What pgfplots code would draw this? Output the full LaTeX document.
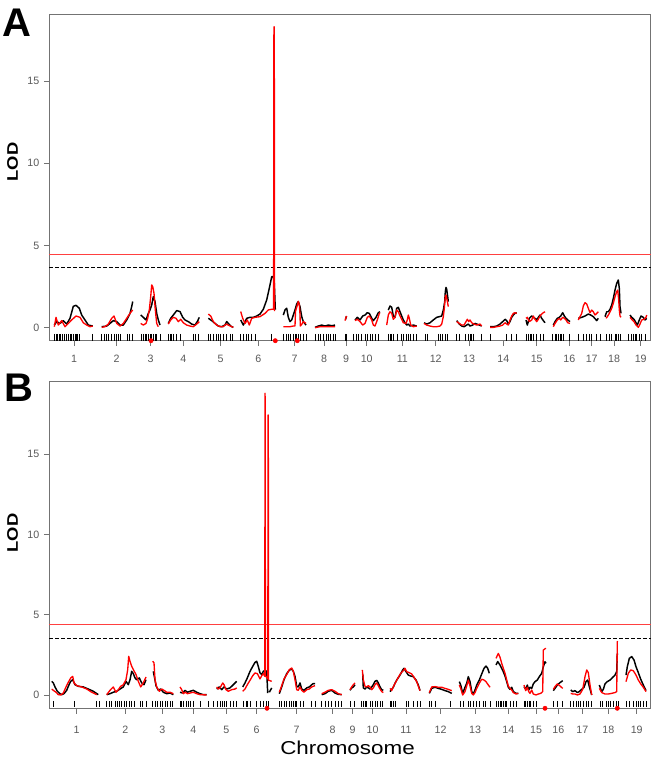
\documentclass[border=0pt]{standalone}
\usepackage{fontspec}
\setmainfont{Liberation Sans}
\usepackage{pgfplots}
\pgfplotsset{compat=1.18}

\pgfplotsset{
  lodaxis/.style={
    scale only axis, width=451.05pt, height=245pt,
    xmin=49.3, xmax=650.7,
    axis line style={draw=black!55, line width=0.7pt},
    tick pos=left, tick align=outside, major tick length=4pt,
    tick style={draw=black!55, line width=0.6pt},
    ytick={0,5,10,15},
    xticklabels={1,2,3,4,5,6,7,8,9,10,11,12,13,14,15,16,17,18,19},
    ticklabel style={font=\fontsize{8}{9.6}\selectfont, text=black!65},
    /pgf/number format/assume math mode=true,
    unbounded coords=jump, clip=false,
  },
  blk/.style={black, line width=1.1pt, line join=round},
  rd/.style={red, line width=1pt, line join=round},
  rug/.style={only marks, mark=|, mark size=2.5pt, mark options={black, line width=0.5pt}},
  dot/.style={only marks, mark=*, mark size=1.6pt, red},
}

\begin{document}
\begin{tikzpicture}[x=0.75pt,y=0.75pt]
\useasboundingbox (0,0) rectangle (656,759);

% ---------------- panel A ----------------
\begin{axis}[lodaxis, at={(36.98pt,313.73pt)}, anchor=south west,
  ymin=-0.79, ymax=19.07, xticklabel style={yshift=-3pt},
  xtick={74,116.7,150.7,183.3,220.5,258.3,294.5,324,346,366.7,402.3,435.7,469,503.3,536.7,569.3,591.7,614,640.7}]
\addplot[red!75, line width=0.6pt] coordinates {(49.3,4.46) (650.7,4.46)};
\addplot[black, line width=0.7pt, dash pattern=on 2.5pt off 2pt] coordinates {(49.3,3.65) (650.7,3.65)};
\addplot[blk] coordinates {
(54.3,0.16) (56.7,0.37) (60,0.26) (63.3,0.43) (66.7,0.22) (70,0.57) (73.3,1.3) (76,1.36) (79.3,1.18) (81.7,0.77) (85,0.47) (88.3,0.16) (92.7,0.1) (95,nan)
(101.7,0.06) (106.7,0.1) (110,0.26) (113.3,0.43) (116.7,0.37) (120,0.16) (123.3,0.16) (126.7,0.47) (130,0.87) (131.7,1.28) (132.7,1.59) (135,nan)
(140.7,0.77) (143.3,0.63) (146,0.47) (148.3,0.87) (150,1.08) (151.7,1.38) (153.3,1.89) (155,1.59) (156.7,0.87) (158.3,0.47) (160,0.16) (162,nan)
(168.3,0.26) (170.7,0.57) (173.3,0.77) (176.7,1.04) (180,0.98) (182.7,0.63) (185,0.47) (188.3,0.37) (191.7,0.22) (195,0.16) (197.3,0.37) (199.3,0.63) (201,nan)
(208.3,0.57) (211.7,0.43) (215,0.26) (218.3,0.1) (221.7,0.06) (225,0.16) (226.7,0.37) (228.3,0.26) (230.7,0.1) (233.3,0.02) (235,nan)
(240.7,0.47) (243.3,0.16) (246.7,0.57) (250,0.63) (253.3,0.63) (256.7,0.71) (260,0.83) (263.3,1.12) (266.7,1.69) (269.3,2.4) (271.7,3.1) (273.3,3.1) (274.3,2.7) (275.3,1.1) (277,nan)
(283.3,0.77) (285,1.08) (286.7,1.18) (288.3,0.63) (290,0.37) (291.7,0.47) (293.3,0.77) (295,1.08) (296.7,1.44) (298.3,1.59) (300,1.28) (301.7,0.67) (303.3,0.37) (306,0.16) (308,nan)
(315,0.02) (318.3,0.1) (321.7,0.16) (325,0.1) (328.3,0.16) (331.7,0.12) (335,0.16) (337,nan)
(345.5,0.5) (346.5,0.7) (348,nan)
(355,0.47) (357.3,0.63) (360,0.47) (362.7,0.71) (365,0.77) (367.3,0.91) (369.3,0.87) (371.7,0.57) (373.3,0.43) (376,0.63) (378.3,0.91) (380,0.97) (382,nan)
(388.3,1.07) (390,1.32) (391.7,1.24) (393.3,0.71) (395,0.63) (396.7,1.18) (398.3,1.24) (400,0.97) (401.7,0.71) (403.3,0.47) (405,0.3) (406.7,0.16) (408.3,0.22) (410,0.1) (413.3,0.16) (416.7,0.1) (419,nan)
(424,0.3) (426.7,0.22) (430,0.3) (433.3,0.47) (436.7,0.63) (439.3,0.67) (441.7,0.71) (443.3,1.07) (444.7,1.58) (445.3,2.19) (446,2.45) (446.7,2.33) (447.7,1.88) (448.3,1.58) (450,nan)
(456.7,0.43) (459.3,0.22) (461.7,0.1) (464,0.06) (466.7,0.16) (468.3,0.22) (470,0.1) (472.7,0.16) (475,0.26) (476.7,0.22) (479.3,0.16) (481.7,0.1) (484,nan)
(490,0.06) (493.3,0.06) (496.7,0.1) (500,0.22) (502.7,0.37) (505,0.51) (506.7,0.43) (508.3,0.22) (510,0.37) (511.7,0.63) (513.3,0.77) (515,0.87) (516.7,0.91) (519,nan)
(526,0.47) (527.3,0.16) (529.3,0.57) (531.7,0.71) (533.3,0.63) (535,0.57) (536.7,0.47) (538.3,0.63) (540,0.77) (541.7,0.57) (543.3,0.43) (545,0.3) (547,nan)
(553.3,0.16) (555,0.37) (557.3,0.57) (559.3,0.63) (560.7,0.71) (562.7,0.91) (564.3,0.71) (566,0.57) (567.7,0.47) (570,0.37) (572,nan)
(578.3,0.57) (581.7,0.63) (585,0.71) (588.3,0.83) (590.7,0.77) (593.3,0.67) (596.7,0.43) (598.3,0.57) (600,nan)
(605,0.67) (606.7,0.97) (608.3,0.97) (610,1.12) (611.7,1.38) (613.3,1.78) (615,2.29) (616.7,2.7) (618.3,2.9) (619.3,2.39) (620,1.28) (621,0.87) (623,nan)
(630,0.77) (631.7,0.63) (634,0.51) (636,0.3) (637.3,0.16) (639.3,0.47) (641,0.71) (643.3,0.63) (645,0.47) (646.7,0.57)
};
\addplot[rd] coordinates {
(54.3,0.06) (56,0.63) (58.3,0.16) (61.7,0.43) (65,0.06) (68.3,0.26) (71.7,0.47) (76,0.71) (80,0.63) (83.3,0.3) (86.7,0.16) (90,0.06) (92.7,0.1) (95,nan)
(101.7,0.02) (105,0.06) (108.3,0.22) (111.7,0.57) (114,0.71) (116.7,0.26) (120,0.1) (123.3,0.26) (126.7,0.57) (130,0.87) (132.7,1.08) (135,nan)
(140.7,0.26) (143.3,0.16) (146,0.26) (147.7,0.57) (149.3,1.08) (150.7,1.89) (151.7,2.6) (152.7,2.5) (154,2.09) (155.3,1.08) (156.7,0.26) (158.3,0.06) (162,nan)
(168.3,0.22) (170.7,0.47) (173.3,0.63) (176,0.57) (178.3,0.37) (180.7,0.51) (183.3,0.3) (186.7,0.16) (190,0.1) (193.3,0.06) (196.7,0.22) (199.3,0.37) (201,nan)
(208.3,0.83) (210.7,0.71) (213.3,0.37) (216.7,0.16) (220,0.06) (223.3,0.06) (226,0.22) (228.3,0.16) (231.7,0.06) (233.3,0.02) (235,nan)
(240.7,0.98) (242.7,0.57) (245,0.26) (247.3,0.47) (249.3,0.16) (251.7,0.57) (255,0.63) (260,0.67) (265,0.87) (268.3,1.08) (271.7,1.12) (273.6,1.12) (273.9,17.8) (274.1,18.3) (274.3,16.9) (274.5,1.0) (277,nan)
(283.3,0.06) (286.7,0.06) (290,0.06) (293.3,0.1) (295,0.1) (295.5,1.0) (297,1.3) (298.3,1.6) (299.3,1.4) (300,0.8) (300.3,0.1) (301.7,0.2) (303.3,0.37) (306,0.26) (308,nan)
(315,0) (320,0.06) (325,0.06) (330,0.06) (335,0.06) (337,nan)
(345,0.43) (346,0.63) (346.7,0.71) (348,nan)
(355,0.43) (357.3,0.51) (360,0.37) (362.7,0.16) (365,0.26) (367.3,0.63) (369.3,0.71) (371.7,0.47) (373.3,0.16) (375,0.1) (377.3,0.47) (379.3,0.87) (380,0.91) (382,nan)
(386.7,0.16) (388.3,0.77) (390,0.97) (391.7,0.87) (393.3,0.51) (395,0.63) (396.7,1.07) (398.3,0.97) (400,0.71) (401.7,0.51) (403.3,0.3) (406,0.26) (407.3,0.47) (408.3,0.77) (409.3,0.57) (410.7,0.16) (413.3,0.06) (416.7,0.1) (419,nan)
(424,0.26) (426.7,0.16) (430,0.1) (433.3,0.06) (436.7,0.06) (440,0.1) (441.7,0.22) (443.3,0.67) (444.3,1.18) (445.3,1.88) (446,1.99) (446.7,1.78) (447.7,1.48) (448.3,1.28) (450,nan)
(456.7,0.37) (459.3,0.26) (461.7,0.16) (464,0.16) (466,0.37) (467.3,0.51) (468.7,0.37) (470,0.47) (471.7,0.3) (474,0.22) (476.7,0.16) (480,0.22) (481.7,0.1) (484,nan)
(490,0.02) (493.3,0.02) (496.7,0.06) (500,0.1) (502.7,0.16) (505,0.3) (506.7,0.22) (508.3,0.16) (510,0.47) (511.7,0.71) (513.3,0.87) (515,0.91) (516.7,0.87) (519,nan)
(526,0.57) (527.3,0.63) (529.3,0.37) (531.7,0.47) (533.3,0.71) (535,0.51) (536.7,0.37) (538.3,0.51) (540,0.71) (541.7,0.83) (543.3,0.91) (545,0.97) (547,nan)
(553.3,0.06) (555,0.26) (557.3,0.47) (559.3,0.57) (560.7,0.47) (562.7,0.63) (564.3,0.57) (566,0.47) (567.7,0.3) (570,0.26) (572,nan)
(578.3,0.47) (581.7,0.87) (583.3,1.32) (585,1.52) (586.7,1.44) (588.3,1.18) (590,0.91) (591.7,1.07) (593.3,0.97) (595,0.77) (596.7,0.87) (598.3,0.97) (600,nan)
(606,0.57) (607.3,0.67) (609.3,0.87) (611.7,1.18) (613.3,1.48) (615,1.88) (616.7,2.19) (617.7,2.29) (618.7,1.68) (619.3,1.07) (620,0.71) (621,0.63) (623,nan)
(630,0.63) (631.7,0.51) (634,0.37) (636,0.16) (638.3,0.02) (640,0.22) (641.7,0.47) (644,0.51) (646,0.63) (646.7,0.77)
};
\addplot[rug] coordinates {
(54.3,-0.58) (56,-0.58) (57.3,-0.58) (59.3,-0.58) (60.7,-0.58) (62.7,-0.58) (64.3,-0.58) (66,-0.58) (68.3,-0.58) (70,-0.58) (71.7,-0.58) (73.3,-0.58) (75,-0.58) (76,-0.58) (77.3,-0.58) (79.3,-0.58) (92.7,-0.58)
(101.7,-0.58) (104,-0.58) (106,-0.58) (108.3,-0.58) (111.7,-0.58) (114,-0.58) (116.7,-0.58) (118.3,-0.58) (120,-0.58) (127.3,-0.58) (129.3,-0.58) (132.7,-0.58)
(141.7,-0.58) (143.3,-0.58) (145,-0.58) (146.7,-0.58) (148.3,-0.58) (150,-0.58) (151.7,-0.58) (153.3,-0.58) (155,-0.58) (156.7,-0.58) (160,-0.58)
(168.3,-0.58) (170,-0.58) (171.7,-0.58) (173.3,-0.58) (176.7,-0.58) (180,-0.58) (193.3,-0.58) (195,-0.58) (198.3,-0.58)
(208.3,-0.58) (210.7,-0.58) (213.3,-0.58) (216,-0.58) (218.3,-0.58) (220,-0.58) (223.3,-0.58) (226.7,-0.58) (230,-0.58) (232.7,-0.58)
(240.7,-0.58) (243.3,-0.58) (246,-0.58) (248.3,-0.58) (251.7,-0.58) (255,-0.58) (271.7,-0.58)
(283.3,-0.58) (286,-0.58) (288.3,-0.58) (290.7,-0.58) (293.3,-0.58) (295,-0.58) (296.7,-0.58) (298.3,-0.58) (300,-0.58) (303.3,-0.58) (306,-0.58)
(315,-0.58) (318.3,-0.58) (320,-0.58) (323.3,-0.58) (326,-0.58) (328.3,-0.58) (330.7,-0.58) (333.3,-0.58) (335,-0.58)
(345,-0.58) (346.7,-0.58)
(353.3,-0.58) (356,-0.58) (358.3,-0.58) (361.7,-0.58) (365,-0.58) (367.3,-0.58) (370,-0.58) (372.7,-0.58) (375,-0.58) (378.3,-0.58)
(388.3,-0.58) (390,-0.58) (391.7,-0.58) (393.3,-0.58) (397.3,-0.58) (401.7,-0.58) (403.3,-0.58) (406,-0.58) (408.3,-0.58) (410.7,-0.58) (413.3,-0.58) (416.7,-0.58)
(425,-0.58) (427.3,-0.58) (438.3,-0.58) (440.7,-0.58) (442.7,-0.58) (445,-0.58) (447.3,-0.58)
(456.7,-0.58) (459.3,-0.58) (465,-0.58) (468.3,-0.58) (470,-0.58) (471.7,-0.58) (473.3,-0.58) (481.7,-0.58)
(490,-0.58) (506.7,-0.58) (511.7,-0.58) (516.7,-0.58)
(526.7,-0.58) (528.3,-0.58) (530,-0.58) (531.7,-0.58) (533.3,-0.58) (536.7,-0.58) (540,-0.58) (543.3,-0.58)
(552.7,-0.58) (555,-0.58) (556.7,-0.58) (558.3,-0.58) (560,-0.58) (561.7,-0.58) (563.3,-0.58) (569.3,-0.58)
(578.3,-0.58) (583.3,-0.58) (586.7,-0.58) (589.3,-0.58) (591.7,-0.58) (596.7,-0.58) (600,-0.58)
(606.7,-0.58) (609.3,-0.58) (611.7,-0.58) (615,-0.58) (616.7,-0.58) (618.3,-0.58) (620,-0.58)
(628.3,-0.58) (631.7,-0.58) (633.3,-0.58) (635,-0.58) (636.7,-0.58) (639.3,-0.58) (641.7,-0.58) (645,-0.58)
};
\addplot[dot] coordinates {(151,-0.79) (275.3,-0.79) (297.3,-0.79)};
\end{axis}

% ---------------- panel B ----------------
\begin{axis}[lodaxis, at={(36.98pt,38.03pt)}, anchor=south west,
  ymin=-0.83, ymax=19.52, xticklabel style={yshift=-6pt},
  xtick={76.7,125.3,162.3,193.3,226.3,256.7,296.5,332.5,352.5,372.5,406,440.5,475,508.3,536,558.3,582.3,608.3,636.7}]
\addplot[red!75, line width=0.6pt] coordinates {(49.3,4.38) (650.7,4.38)};
\addplot[black, line width=0.7pt, dash pattern=on 2.5pt off 2pt] coordinates {(49.3,3.52) (650.7,3.52)};
\addplot[blk] coordinates {
(51.7,0.85) (53.3,0.75) (55,0.5) (57.3,0.23) (60,0.08) (61.7,0.02) (64,0.08) (66.7,0.29) (68.3,0.54) (70.7,0.85) (72.7,0.95) (75,0.64) (78.3,0.54) (83.3,0.5) (88.3,0.37) (93.3,0.23) (98.3,0.02) (101,nan)
(106.7,0.02) (110,0.08) (113.3,0.17) (116.7,0.23) (120,0.37) (123.3,0.5) (126,0.85) (128.3,0.64) (130,0.95) (131.7,1.47) (133.3,1.33) (135,1.06) (136.7,0.95) (139.3,1.06) (141.7,0.75) (144,0.64) (146,0.95) (149,nan)
(153.3,1.47) (154.3,1.16) (156,0.58) (158.3,0.29) (160.7,0.37) (163.3,0.17) (166.7,0.08) (170,0.12) (173.3,0.02) (176,nan)
(180,0.17) (182.7,0.12) (185,0.29) (187.3,0.17) (190,0.23) (193.3,0.29) (196.7,0.17) (200,0.08) (203.3,0.02) (206.7,0.02) (210,nan)
(216.7,0.37) (219.3,0.5) (221.7,0.33) (224,0.5) (226.7,0.37) (230,0.44) (233.3,0.64) (236.7,0.85) (239,nan)
(242.7,0.5) (245,0.75) (247.3,1.06) (250,1.47) (252.7,1.78) (255,2.03) (256.7,2.1) (258.3,1.78) (260,1.37) (261.7,1.27) (263.3,1.47) (265,1.54) (266.7,1.47) (267.7,0.12) (268.5,nan)
(269.3,0.17) (271.7,0.44) (274,nan)
(279.3,0.08) (281.7,0.5) (284,0.95) (286.7,1.33) (289.3,1.54) (291.7,1.62) (293.3,1.47) (295,1.16) (296.7,0.54) (298.3,0.5) (300,0.75) (301.7,0.37) (304,0.29) (306.7,0.44) (309.3,0.5) (311.7,0.64) (313.3,0.71) (315,0.71) (318,nan)
(321.7,0.02) (325,0.08) (328.3,0.23) (331.7,0.29) (335,0.12) (338.3,0.04) (341.7,0.02) (345,nan)
(350,0.29) (351.7,0.44) (353.3,0.5) (355,0.64) (358,nan)
(362.7,1.31) (363.3,0.44) (365,0.37) (366.7,0.5) (368.3,0.44) (370,0.37) (371.7,0.5) (373.3,0.64) (375,0.85) (376.7,0.91) (378.3,0.75) (380,0.5) (381.7,0.33) (383.3,0.29) (386,nan)
(390,0.21) (391.7,0.35) (393.3,0.48) (395,0.73) (396.7,0.93) (400,1.24) (402.7,1.56) (404,1.66) (406,1.45) (408.3,1.24) (410.7,1.18) (413.3,1.14) (416,0.93) (418.3,0.62) (420,0.27) (424,nan)
(429.3,0.1) (431.7,0.41) (435,0.48) (438.3,0.41) (441.7,0.35) (445,0.27) (448.3,0.21) (451.7,0.1) (455,nan)
(459.3,0.83) (460.7,0.62) (462.7,0.1) (465,0.48) (466.7,0.73) (468.3,1.14) (470,0.83) (471.7,0.21) (473.3,0.06) (475,0.31) (476.7,0.62) (479.3,0.93) (481.7,1.31) (484,1.66) (486,1.8) (487.7,1.66) (489.3,1.35) (493,nan)
(496,1.87) (497.7,2.08) (500,1.87) (501.7,1.66) (503.3,1.45) (505,1.18) (506.7,0.83) (508.3,0.48) (510,0.35) (511.7,0.48) (513.3,0.21) (516,0.1) (518.3,0.1) (521,nan)
(524,0.52) (525.7,0.35) (527.3,0.62) (528.7,0.31) (530,0.48) (531.7,0.41) (533.3,0.69) (535,0.83) (537.3,0.93) (539.3,1.14) (541.7,1.35) (543.3,1.76) (545,2.07) (546,1.97) (549,nan)
(553.3,0.27) (555,0.41) (557.3,0.62) (560,0.77) (562.7,0.89) (566,nan)
(570.7,0.31) (572.7,0.21) (575,0.27) (577.3,0.15) (579.3,0.21) (581.7,0.35) (584,0.48) (586,0.83) (587.7,0.93) (589.3,0.52) (591.7,0) (595,nan)
(599.3,0.62) (601.7,0.21) (603.3,0.35) (605,0.69) (607.3,0.83) (610,0.93) (612.7,1.1) (615,1.24) (616.7,1.45) (617.3,2.59) (620,nan)
(626,1.24) (627.3,1.76) (629.3,2.28) (631.7,2.39) (634,2.18) (636,1.76) (638.3,1.39) (640.7,0.98) (643.3,0.62) (646,0.27)
};
\addplot[rd] coordinates {
(51.7,0.37) (53.3,0.29) (56,0.17) (58.3,0.02) (60.7,0) (63.3,0.12) (66,0.5) (68.3,0.79) (70.7,1.06) (72.7,1.16) (74,0.75) (76.7,0.58) (81.7,0.5) (86.7,0.37) (91.7,0.17) (96.7,0.02) (101,nan)
(106.7,0.02) (110,0.29) (113.3,0.5) (116,0.17) (118.3,0.33) (120.7,0.54) (123.3,0.64) (126,0.95) (127.7,1.58) (128.7,2.41) (130,2.1) (131.7,1.78) (133.3,1.58) (136,1.27) (138.3,0.85) (140.7,0.5) (143.3,0.75) (146,1.12) (149,nan)
(152.7,2.1) (154,2.0) (155,0.95) (156.7,0.5) (159.3,0.23) (161.7,0.37) (164,0.29) (166.7,0.17) (170,0.17) (173.3,0.08) (176,nan)
(180,0.5) (181.7,0.33) (183.3,0.08) (185.3,0.17) (187.3,0.08) (190,0.12) (193.3,0.17) (196.7,0.08) (200,0.02) (206.7,0) (210,nan)
(216.7,0.5) (218.3,0.37) (220,0.44) (222.7,0.75) (224,0.64) (226,0.33) (228.3,0.23) (231.7,0.33) (235,0.37) (236.7,0.44) (239,nan)
(242.7,0.23) (245,0.37) (247.3,0.64) (250,0.91) (252.7,1.2) (255,1.37) (257.3,1.33) (260,1.0) (261.7,1.2) (263.3,1.33) (264.8,1.16) (265,18.8) (265.2,18.3) (265.4,1.2) (267.8,1.0) (268.1,17.45) (268.3,16.5) (268.5,0.9) (269.5,0.9) (271.7,0.85) (274,nan)
(279.3,0.17) (281.7,0.58) (284,1.0) (286.7,1.27) (289.3,1.58) (291.7,1.68) (293.3,1.47) (295,0.95) (296.7,0.33) (298.3,0.29) (300,0.5) (301.7,0.29) (304,0.17) (306.7,0.33) (309.3,0.37) (311.7,0.5) (315,0.58) (318,nan)
(321.7,0.08) (325,0.17) (328.3,0.29) (331.7,0.33) (335,0.23) (338.3,0.08) (341.7,0.02) (345,nan)
(350,0.33) (351.7,0.5) (353.3,0.64) (355,0.75) (358,nan)
(362.3,1.56) (363.3,0.95) (365,0.54) (366.7,0.5) (368.3,0.58) (370,0.5) (371.7,0.33) (373.3,0.44) (375,0.64) (376.7,0.75) (378.3,0.58) (380,0.37) (381.7,0.21) (383.3,0.15) (386,nan)
(390,0.41) (391.7,0.27) (393.3,0.52) (396,0.83) (398.3,1.1) (400.7,1.35) (403.3,1.51) (405,1.66) (406.7,1.45) (409.3,1.39) (411.7,1.31) (414,1.1) (416.7,0.83) (418.7,0.48) (420,0.27) (424,nan)
(429.3,0.15) (431.7,0.5) (435,0.52) (438.3,0.48) (441.7,0.48) (445,0.41) (448.3,0.35) (451.7,0.27) (455,nan)
(459.3,0.62) (460.7,0.41) (462.7,0) (465,0.21) (466.7,0.56) (468.3,0.93) (470,0.56) (471.7,0.1) (473.3,0) (475,0.15) (476.7,0.41) (479.3,0.73) (481.7,0.98) (484,0.93) (486,0.83) (488.3,0.62) (490,0.48) (493,nan)
(496,2.28) (498.3,2.59) (500,2.35) (501.7,1.97) (503.3,1.66) (505,1.35) (506.7,0.93) (508.3,0.56) (510,0.41) (511.7,0.31) (513.3,0.15) (516,0.06) (518.3,0.1) (521,nan)
(524,0.62) (525.7,0.27) (527.3,0.48) (528.7,0.21) (530,0.1) (531.7,0.31) (533.3,0.06) (536,0) (538.3,0.06) (540.7,0.1) (542.7,0.21) (543.3,2.8) (544.3,2.84) (545.3,2.9) (546,2.9) (549,nan)
(553.3,0.35) (555,0.52) (557.3,0.69) (560,0.56) (562.7,0.41) (566,nan)
(570.7,0.1) (572.7,0.06) (575,0.06) (577.3,0) (580,0.06) (582.7,0.35) (585,1.14) (586.7,1.56) (588.3,1.39) (590,0.62) (591.7,0) (595,nan)
(599.3,0.41) (601.7,0.15) (605,0.06) (608.3,0.06) (611.7,0.1) (615,0.15) (616.7,0.21) (617.3,3.32) (617.7,3.35) (620,nan)
(626,0.83) (628.3,1.35) (630.7,1.56) (633.3,1.51) (636,1.24) (638.3,0.93) (640.7,0.69) (643.3,0.48) (646,0.21)
};
\addplot[rug] coordinates {
(53.3,-0.57) (74,-0.57) (96.7,-0.57) (99.3,-0.57)
(106.7,-0.57) (109.3,-0.57) (111.7,-0.57) (115,-0.57) (117.3,-0.57) (119.3,-0.57) (121.7,-0.57) (124,-0.57) (126.7,-0.57) (129.3,-0.57) (131.7,-0.57) (134,-0.57) (140,-0.57) (142.7,-0.57) (146.7,-0.57)
(152.7,-0.57) (155,-0.57) (157.3,-0.57) (160,-0.57) (162.7,-0.57) (165,-0.57) (167.3,-0.57) (170,-0.57) (172.7,-0.57)
(180,-0.57) (181.7,-0.57) (183.3,-0.57) (186,-0.57) (188.3,-0.57) (190,-0.57) (193.3,-0.57) (200,-0.57) (208.3,-0.57)
(213.3,-0.57) (217.3,-0.57) (220,-0.57) (222.7,-0.57) (224,-0.57) (226.7,-0.57) (230,-0.57) (233.3,-0.57) (236.7,-0.57)
(243.3,-0.57) (246,-0.57) (247.3,-0.57) (250,-0.57) (256.7,-0.57) (260.7,-0.57) (263.3,-0.57) (266.7,-0.57) (268.3,-0.57)
(279.3,-0.57) (281.7,-0.57) (284,-0.57) (286.7,-0.57) (289.3,-0.57) (291.7,-0.57) (293.3,-0.57) (295,-0.57) (296.7,-0.57) (300,-0.57) (303.3,-0.57) (311.7,-0.57) (315,-0.57)
(321.7,-0.57) (325,-0.57) (328.3,-0.57) (331.7,-0.57) (335,-0.57) (338.3,-0.57) (341.7,-0.57)
(350.7,-0.57) (354,-0.57)
(361.7,-0.57) (363.3,-0.57) (365,-0.57) (366.7,-0.57) (370,-0.57) (372.7,-0.57) (375,-0.57) (377.3,-0.57) (380,-0.57) (382.7,-0.57)
(390,-0.57) (391.7,-0.57) (393.3,-0.57) (395,-0.57) (406,-0.57) (408.3,-0.57) (413.3,-0.57) (417.3,-0.57) (420,-0.57)
(429.3,-0.57) (431.7,-0.57) (435,-0.57) (450,-0.57)
(460,-0.57) (463.3,-0.57) (468.3,-0.57) (470,-0.57) (473.3,-0.57) (476.7,-0.57) (479.3,-0.57) (483.3,-0.57) (485,-0.57) (490,-0.57)
(496.7,-0.57) (498.3,-0.57) (500,-0.57) (501.7,-0.57) (503.3,-0.57) (505,-0.57) (506.7,-0.57) (510,-0.57) (513.3,-0.57) (516.7,-0.57)
(524,-0.57) (525.7,-0.57) (527.3,-0.57) (529.3,-0.57) (530.7,-0.57) (533.3,-0.57) (536.7,-0.57)
(553.3,-0.57) (557.3,-0.57) (562.7,-0.57)
(570.7,-0.57) (573.3,-0.57) (576,-0.57) (578.3,-0.57) (580.7,-0.57) (583.3,-0.57) (586,-0.57) (588.3,-0.57) (591.7,-0.57)
(600,-0.57) (602.7,-0.57) (606,-0.57) (608.3,-0.57) (610.7,-0.57) (613.3,-0.57) (616,-0.57) (618.3,-0.57)
(626.7,-0.57) (629.3,-0.57) (633.3,-0.57) (636,-0.57) (638.3,-0.57) (640.7,-0.57) (643.3,-0.57) (646,-0.57)
};
\addplot[dot] coordinates {(267,-0.83) (545,-0.83) (617.3,-0.83)};
\end{axis}

% labels
\node[anchor=base, inner sep=0pt, font=\fontsize{30}{30}\selectfont\bfseries] at (17,722) {A};
\node[anchor=base, inner sep=0pt, font=\fontsize{30}{30}\selectfont\bfseries] at (19,357.3) {B};
\node[rotate=90, inner sep=0pt, font=\fontsize{11.5}{12}\selectfont\bfseries] at (12.5,597) {\scalebox{1.2}[1]{LOD}};
\node[rotate=90, inner sep=0pt, font=\fontsize{11.5}{12}\selectfont\bfseries] at (12.5,226) {\scalebox{1.2}[1]{LOD}};
\node[anchor=base, inner sep=0pt, font=\fontsize{14}{15}\selectfont] at (347.5,4) {\scalebox{1.2}[1]{Chromosome}};
\end{tikzpicture}
\end{document}
